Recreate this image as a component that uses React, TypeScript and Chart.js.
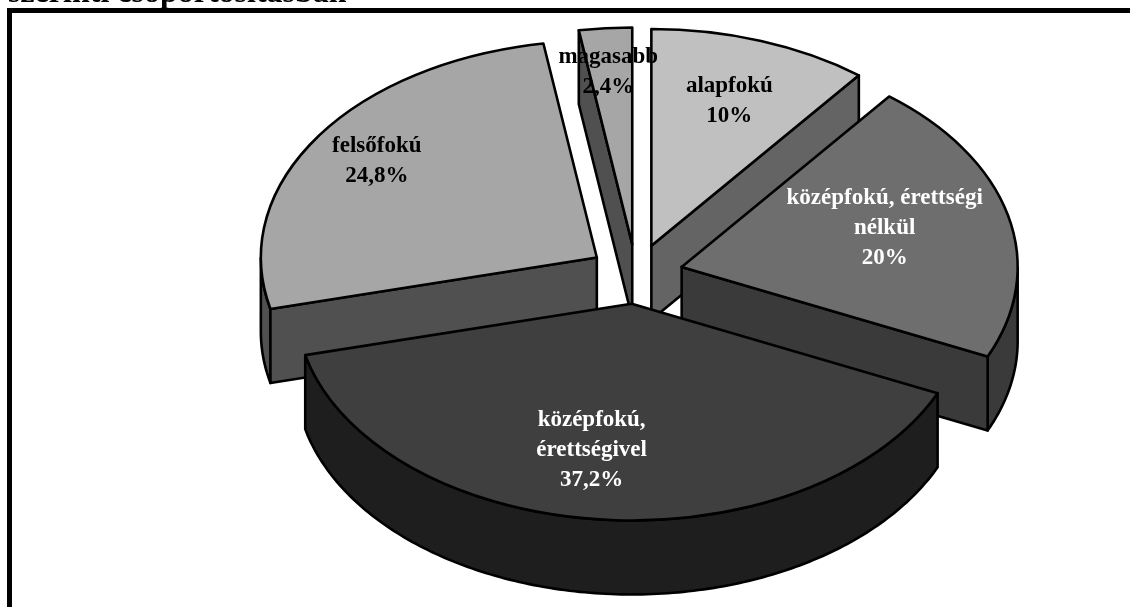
import React, { useEffect, useRef } from "react";
import { Chart, registerables } from "chart.js";

Chart.register(...registerables);

const titleText = "szerinti csoportosításban";
const categories = ["alapfokú", "középfokú, érettségi\nnélkül", "középfokú,\nérettségivel", "felsőfokú", "magasabb"];
const values = [10, 20, 37.2, 24.8, 2.4];
const topColors = ["#c0c0c0", "#6e6e6e", "#3f3f3f", "#a6a6a6", "#a6a6a6"];
const wallColors = ["#646464", "#3a3a3a", "#1e1e1e", "#505050", "#505050"];
const labelColors = ["#000000", "#ffffff", "#ffffff", "#000000", "#000000"];
// label centre, relative to the slice's apex, in pixels
const labelShift = [[78, -145], [203, -39], [-40, 146], [-220, -96], [-24, -172]];

const EXPLODE = 47;
const EXPLODE_SQUASH = 0.635;
const SQUASH = 0.645;
const LINE = 2.6;
const DEPTH = 74;

const pie3d = {
  id: "pie3d",
  beforeDraw(chart: any) {
    const { ctx } = chart;
    ctx.save();
    ctx.fillStyle = "#ffffff";
    ctx.fillRect(0, 0, chart.width, chart.height);
    ctx.fillStyle = "#000000";
    ctx.fillRect(7, 8, chart.width - 7, 5);
    ctx.fillRect(7, 8, 5, chart.height - 8);
    ctx.font = "bold 32px 'Liberation Serif'";
    ctx.textBaseline = "alphabetic";
    ctx.textAlign = "left";
    ctx.fillText(titleText, 8, 2);
    ctx.restore();
  },
  beforeDatasetDraw(chart: any, args: any) {
    const { ctx } = chart;
    const arcs = args.meta.data.map((el: any, i: number) => {
      const mid = (el.startAngle + el.endAngle) / 2;
      return {
        el,
        i,
        ax: el.x + Math.cos(mid) * EXPLODE,
        ay: el.y + Math.sin(mid) * EXPLODE * EXPLODE_SQUASH,
      };
    });
    arcs.sort((a: any, b: any) => a.ay - b.ay);
    ctx.save();
    ctx.lineWidth = LINE;
    ctx.strokeStyle = "#000000";
    ctx.lineJoin = "round";
    for (const { el, i, ax, ay } of arcs) {
      const R = el.outerRadius;
      const ry = R * SQUASH;
      const pt = (a: number) => [ax + R * Math.cos(a), ay + ry * Math.sin(a)];
      const wall = (top: number[][]) => {
        ctx.beginPath();
        top.forEach((p, k) => (k ? ctx.lineTo(p[0], p[1]) : ctx.moveTo(p[0], p[1])));
        [...top].reverse().forEach((p) => ctx.lineTo(p[0], p[1] + DEPTH));
        ctx.closePath();
        ctx.fillStyle = wallColors[i];
        ctx.fill();
        ctx.stroke();
      };
      // outer wall: only the part of the rim that faces the viewer
      const samples: number[][] = [];
      const n = 160;
      for (let k = 0; k <= n; k++) {
        const a = el.startAngle + ((el.endAngle - el.startAngle) * k) / n;
        if (Math.sin(a) >= 0) samples.push(pt(a));
      }
      if (samples.length > 1) wall(samples);
      // radial walls: only those that a downward extrusion exposes
      if (Math.cos(el.startAngle) < -1e-6) wall([[ax, ay], pt(el.startAngle)]);
      if (Math.cos(el.endAngle) > 1e-6) wall([[ax, ay], pt(el.endAngle)]);

      ctx.save();
      ctx.translate(ax, ay);
      ctx.scale(1, SQUASH);
      ctx.translate(-el.x, -el.y);
      el.draw(ctx, chart.chartArea);
      ctx.restore();

      ctx.beginPath();
      ctx.moveTo(ax, ay);
      ctx.ellipse(ax, ay, R, ry, 0, el.startAngle, el.endAngle);
      ctx.closePath();
      ctx.stroke();
    }
    ctx.font = "bold 23px 'Liberation Serif'";
    ctx.textAlign = "center";
    ctx.textBaseline = "middle";
    for (const { i, ax, ay } of arcs) {
      const lines = [...categories[i].split("\n"), `${String(values[i]).replace(".", ",")}%`];
      const cx = ax + labelShift[i][0];
      const cy = ay + labelShift[i][1];
      ctx.fillStyle = labelColors[i];
      lines.forEach((t, k) => ctx.fillText(t, cx, cy + (k - (lines.length - 1) / 2) * 30));
    }
    ctx.restore();
    return false;
  },
};

export default function App() {
  const ref = useRef<HTMLCanvasElement>(null);
  useEffect(() => {
    const chart = new Chart(ref.current!, {
      type: "pie",
      data: {
        labels: categories,
        datasets: [{ data: values, backgroundColor: topColors, borderWidth: 0 }],
      },
      options: {
        animation: false,
        responsive: false,
        radius: 336,
        layout: { padding: { left: 142, bottom: 59 } },
        plugins: { legend: { display: false }, tooltip: { enabled: false } },
      } as any,
      plugins: [pie3d as any],
    });
    return () => chart.destroy();
  }, []);
  return (
    <canvas
      ref={ref}
      width={1130}
      height={607}
      style={{ position: "absolute", left: 0, top: 0, display: "block" }}
    />
  );
}
